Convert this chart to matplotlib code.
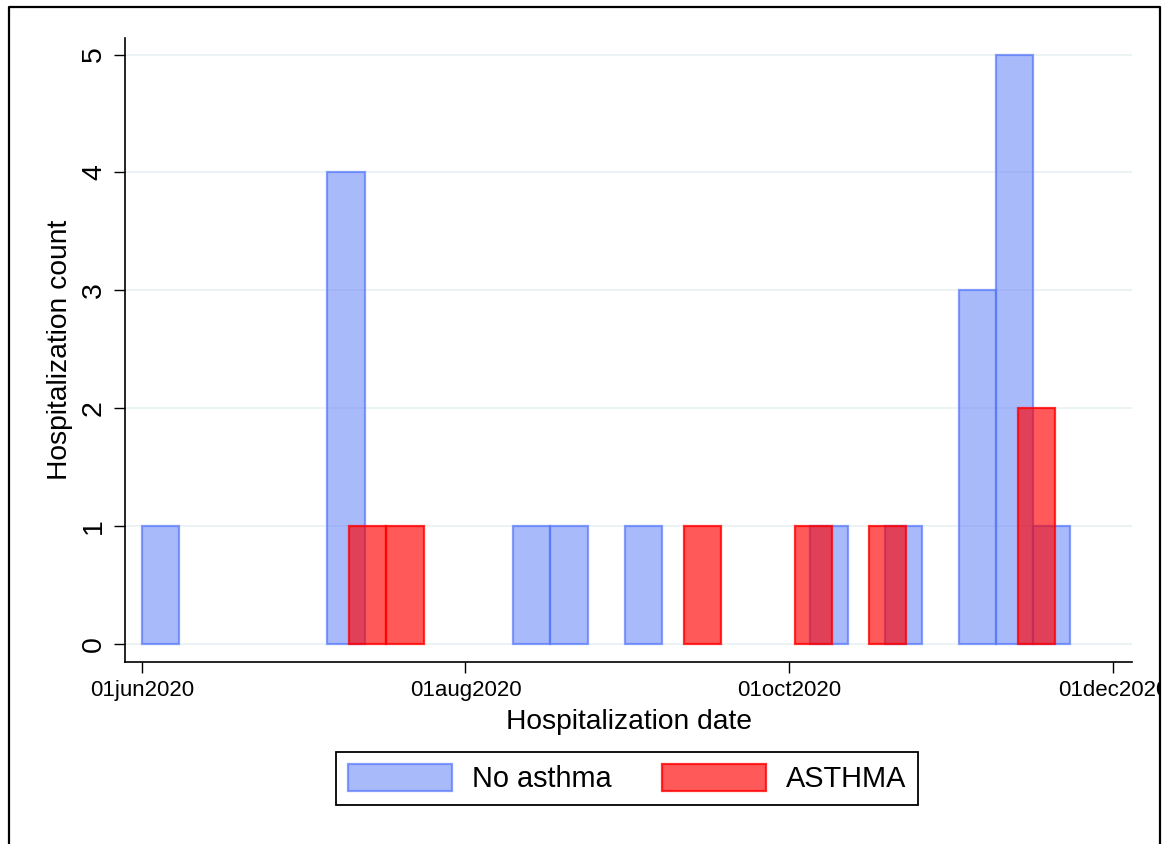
import matplotlib
matplotlib.use('Agg')
import matplotlib.pyplot as plt
import matplotlib.dates as mdates
from matplotlib.lines import Line2D
from matplotlib.patches import Rectangle
import datetime as dt

plt.rcParams['font.family'] = ['Liberation Sans', 'DejaVu Sans']

# weekly bins (start date of each bin) and counts
no_asthma_bins = ['2020-06-01', '2020-07-06', '2020-08-10', '2020-08-17', '2020-08-31',
                  '2020-10-05', '2020-10-19', '2020-11-02', '2020-11-09', '2020-11-16']
no_asthma_counts = [1, 4, 1, 1, 1, 1, 1, 3, 5, 1]

asthma_bins = ['2020-07-10', '2020-07-17', '2020-09-11', '2020-10-02', '2020-10-16', '2020-11-13']
asthma_counts = [1, 1, 1, 1, 1, 2]

bin_days = 7
tick_dates = ['2020-06-01', '2020-08-01', '2020-10-01', '2020-12-01']
tick_labels = ['01jun2020', '01aug2020', '01oct2020', '01dec2020']
y_ticks = [0, 1, 2, 3, 4, 5]


def to_num(dates, shift=0.0):
    return [mdates.date2num(dt.datetime.strptime(d, '%Y-%m-%d')) + shift for d in dates]


fig = plt.figure(figsize=(11.68, 8.44), dpi=100)
W, H = 1168, 844
ax = fig.add_axes([125 / W, 1 - 662 / H, (1132 - 125) / W, (662 - 38) / H])

blue = (85 / 255, 119 / 255, 249 / 255, 0.5)
blue_edge = (85 / 255, 119 / 255, 249 / 255, 0.7)
red = (1.0, 0.0, 0.0, 0.65)
red_edge = (1.0, 0.0, 0.0, 0.8)

ax.bar(to_num(no_asthma_bins), no_asthma_counts, width=bin_days, align='edge',
       color=blue, edgecolor=blue_edge, linewidth=1.6, zorder=2, label='No asthma')
ax.bar(to_num(asthma_bins, 0.1), asthma_counts, width=bin_days, align='edge',
       color=red, edgecolor=red_edge, linewidth=1.6, zorder=3, label='ASTHMA')

x0 = to_num(['2020-06-01'])[0]
ax.set_xlim(x0 - 3.15, x0 + 186.6)
ax.set_ylim(-0.153, 5.14)

ax.set_xticks(to_num(tick_dates))
ax.set_xticklabels(tick_labels, fontsize=16)
ax.set_yticks(y_ticks)
ax.set_yticklabels([str(v) for v in y_ticks], fontsize=20.5, rotation=90, va='center')
ax.tick_params(axis='x', length=8, width=1.0, pad=5)
ax.tick_params(axis='y', length=8, width=1.0, pad=5)

ax.yaxis.grid(True, color='#eaf2f3', linewidth=1.3, zorder=0)
ax.set_axisbelow(True)

for s in ['top', 'right']:
    ax.spines[s].set_visible(False)
for s in ['left', 'bottom']:
    ax.spines[s].set_linewidth(1.2)

ax.set_xlabel('Hospitalization date', fontsize=20.3, labelpad=6)
ax.set_ylabel('Hospitalization count', fontsize=20.3, labelpad=6)

leg = fig.legend(loc='center', bbox_to_anchor=(0.537, 0.0776), ncol=2, fontsize=20.8,
                 frameon=True, fancybox=False, edgecolor='black', framealpha=1,
                 handlelength=3.6, handleheight=1.1, handletextpad=0.7,
                 columnspacing=1.75, borderpad=0.4, borderaxespad=0)
leg.get_frame().set_linewidth(1.3)

# outer frame of the graph region; the last date label runs under it
fig.add_artist(Rectangle((1161 / W, 0), 7 / W, 1, transform=fig.transFigure,
                         facecolor='white', edgecolor='none', zorder=10))
fig.add_artist(Line2D([9 / W, 9 / W, 1160 / W, 1160 / W], [0, 1 - 7 / H, 1 - 7 / H, 0],
                      color='black', linewidth=1.6, transform=fig.transFigure, zorder=11))

fig.savefig('out.png', dpi=100)
